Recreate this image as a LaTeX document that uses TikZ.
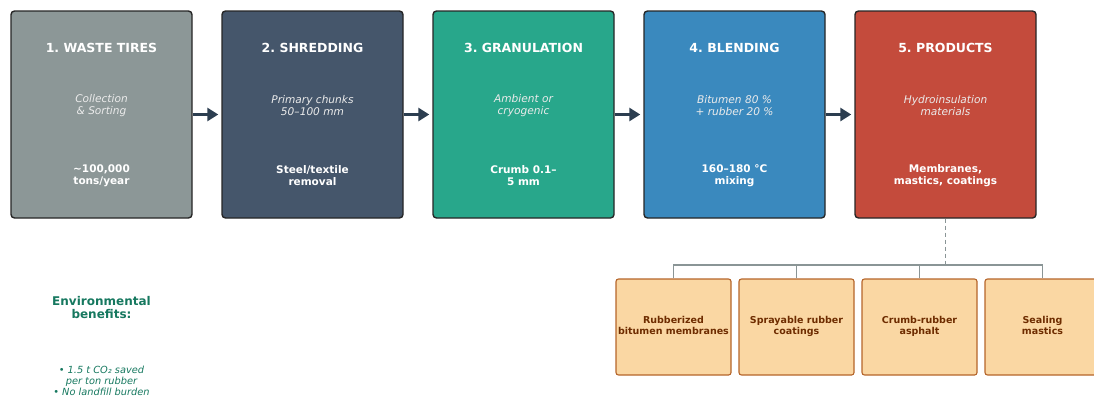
\documentclass[tikz,border=0pt]{standalone}
\usepackage{fontspec}
\setmainfont{DejaVu Sans}
\usetikzlibrary{arrows.meta,positioning}
\frenchspacing
\definecolor{tiregray}{HTML}{8C9797}
\definecolor{shredblue}{HTML}{45566B}
\definecolor{granteal}{HTML}{28A78B}
\definecolor{blendblue}{HTML}{3A89BE}
\definecolor{prodred}{HTML}{C44B3C}
\definecolor{flowdark}{HTML}{2C3E50}
\definecolor{prodfill}{HTML}{FAD7A3}
\definecolor{prodedge}{HTML}{B5652A}
\definecolor{prodtext}{HTML}{6E2C00}
\definecolor{envgreen}{HTML}{16785F}
\definecolor{treegray}{HTML}{8A9596}
\newcommand{\prodlines}[2]{\raisebox{-2.5pt}{\begin{tabular}{@{}c@{}}#1\\#2\end{tabular}}}
\tikzset{
  stagebox/.style={rectangle, rounded corners=3.5pt, draw=black!85, line width=1.4pt,
    minimum width=181pt, minimum height=207pt, inner sep=0pt},
  stagetitle/.style={text=white, font=\fontsize{12.5}{14}\selectfont\bfseries},
  stagenote/.style={text=white!92!black, align=center, font=\fontsize{10.6}{12}\selectfont\itshape},
  stagefact/.style={text=white, align=center, font=\fontsize{10.5}{12}\selectfont\bfseries},
  flow/.style={draw=flowdark, line width=3pt, -{Triangle[length=11pt,width=13pt]}, shorten >=3pt},
  prodbox/.style={rectangle, rounded corners=2.5pt, draw=prodedge, line width=1.1pt, fill=prodfill,
    minimum width=115pt, minimum height=96pt, inner sep=0pt, text=prodtext,
    font=\fontsize{9.5}{10.7}\selectfont\bfseries},
  tree/.style={draw=treegray, line width=1.2pt},
}
\begin{document}
\begin{tikzpicture}[x=1pt, y=-1pt]
\useasboundingbox (0,0) rectangle (1094,399);
\def\yc{114.5}
\def\yt{48}
\def\ym{106}
\def\yb{176}
% Prozesskette
\node[stagebox, fill=tiregray]  (w1) at (101.5,\yc) {};
\node[stagebox, fill=shredblue] (w2) at (312.5,\yc) {};
\node[stagebox, fill=granteal]  (w3) at (523.5,\yc) {};
\node[stagebox, fill=blendblue] (w4) at (734.5,\yc) {};
\node[stagebox, fill=prodred]   (w5) at (945.5,\yc) {};
\node[stagetitle] (t1) at (101.5,\yt) {1. WASTE TIRES};
\node[stagetitle] (t2) at (312.5,\yt) {2. SHREDDING};
\node[stagetitle] (t3) at (523.5,\yt) {3. GRANULATION};
\node[stagetitle] (t4) at (734.5,\yt) {4. BLENDING};
\node[stagetitle] (t5) at (945.5,\yt) {5. PRODUCTS};
\node[stagenote] (n1) at (101.5,\ym) {Collection\\\& Sorting};
\node[stagenote] (n2) at (312.5,\ym) {Primary chunks\\50–100 mm};
\node[stagenote] (n3) at (523.5,\ym) {Ambient or\\cryogenic};
\node[stagenote] (n4) at (734.5,\ym) {Bitumen 80 \%\\+ rubber 20 \%};
\node[stagenote] (n5) at (945.5,\ym) {Hydroinsulation\\materials};
\node[stagefact] (f1) at (101.5,\yb) {\textasciitilde100,000\\tons/year};
\node[stagefact] (f2) at (312.5,\yb) {Steel/textile\\removal};
\node[stagefact] (f3) at (523.5,\yb) {Crumb 0.1–\\5 mm};
\node[stagefact] (f4) at (734.5,\yb) {160–180 °C\\mixing};
\node[stagefact] (f5) at (945.5,\yb) {Membranes,\\mastics, coatings};
\draw[flow] (w1) -- (w2);
\draw[flow] (w2) -- (w3);
\draw[flow] (w3) -- (w4);
\draw[flow] (w4) -- (w5);
% Produkte
\node[prodbox] (pa) at (673.5,327) {\prodlines{Rubberized}{bitumen membranes}};
\node[prodbox] (pb) at (796.5,327) {\prodlines{Sprayable rubber}{coatings}};
\node[prodbox] (pc) at (919.5,327) {\prodlines{Crumb-rubber}{asphalt}};
\node[prodbox] (pd) at (1042.5,327) {\prodlines{Sealing}{mastics}};
\coordinate (hub) at (945.5,265);
\draw[tree, dash pattern=on 4pt off 3pt] (w5.south) -- (hub);
\draw[tree] (pa.north) |- (hub) -| (pd.north);
\draw[tree] (pb.north) -- (pb.north |- hub);
\draw[tree] (pc.north) -- (pc.north |- hub);
% Umwelt
\node[text=envgreen, align=center, font=\fontsize{12}{13}\selectfont\bfseries] (env) at (101.5,307.5) {Environmental\\benefits:};
\node[text=envgreen, align=center, font=\fontsize{9.8}{11}\selectfont\itshape] (envlist) at (101.5,381) {• 1.5 t CO₂ saved\\per ton rubber\\• No landfill burden};
\end{tikzpicture}
\end{document}
